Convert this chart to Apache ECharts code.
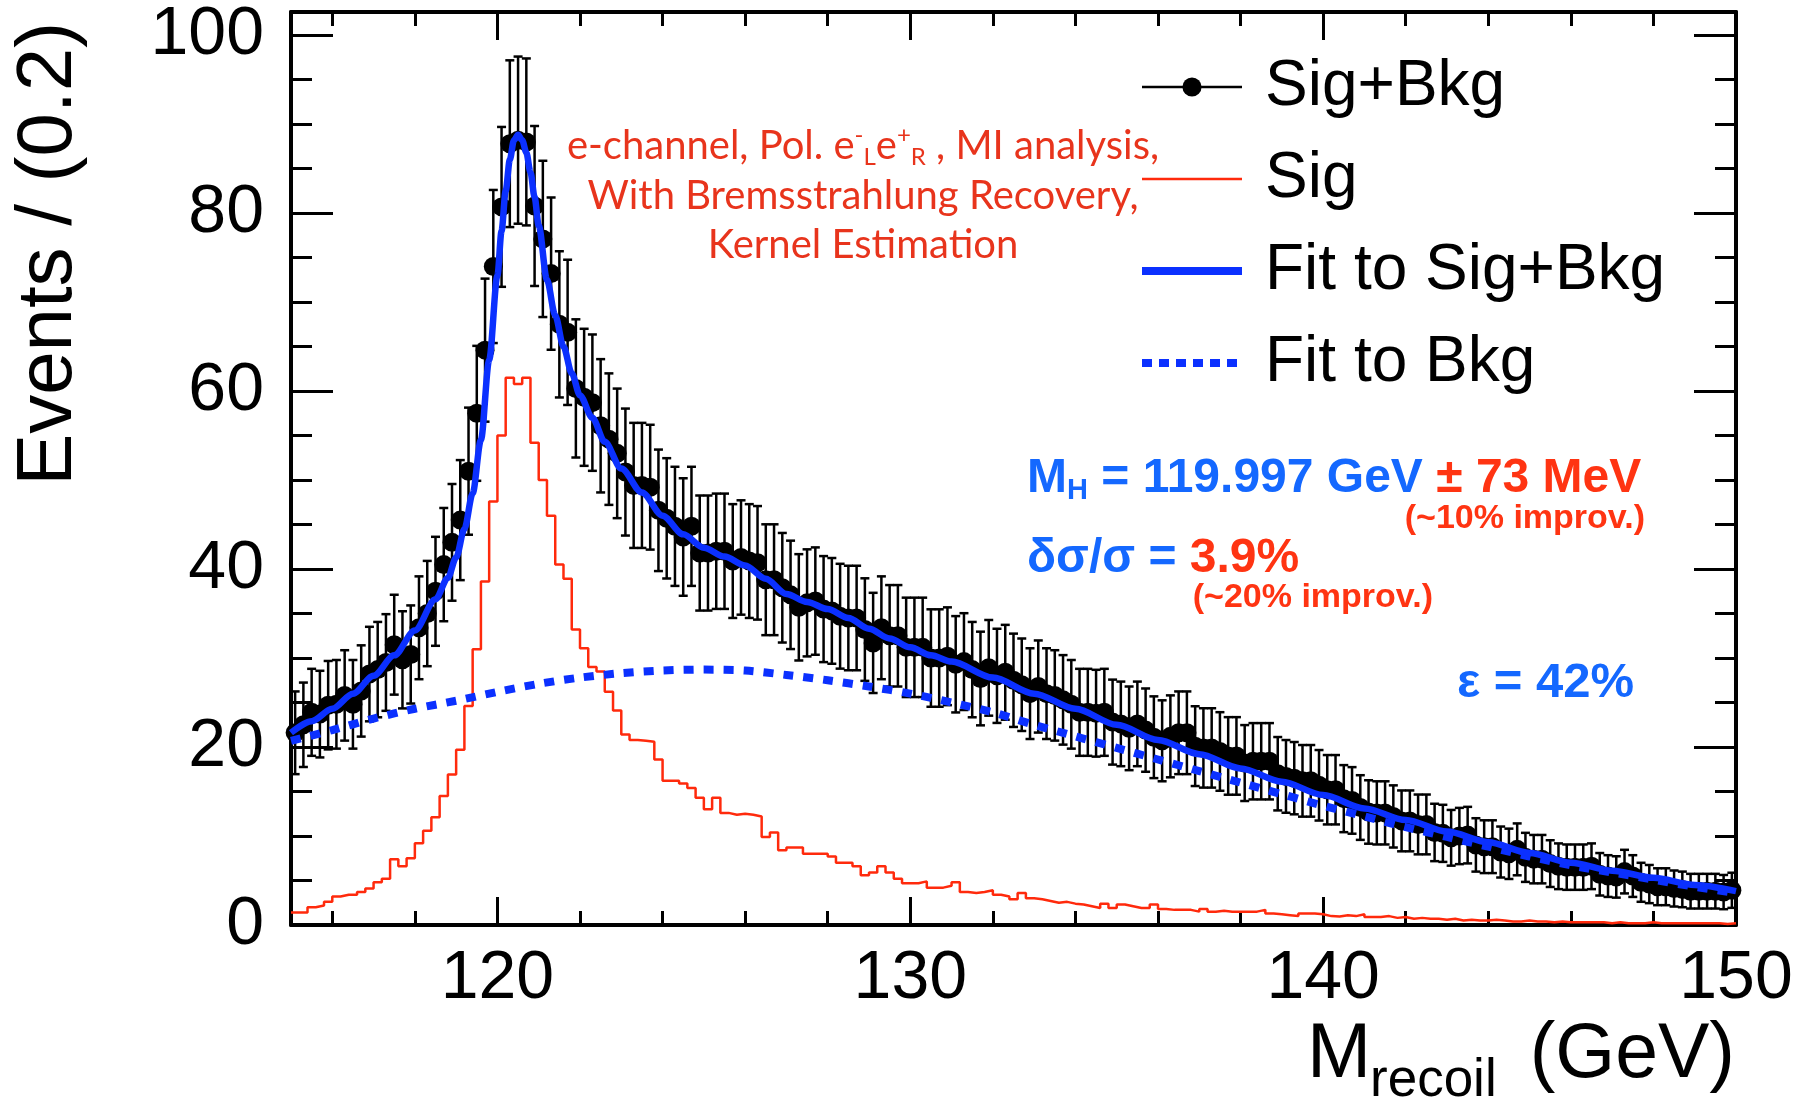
<!DOCTYPE html>
<html>
<head>
<meta charset="utf-8">
<script src="https://cdn.jsdelivr.net/npm/echarts@6.0.0/dist/echarts.min.js"></script>
<style>
html,body{margin:0;padding:0;background:#fff;}
#chart{width:1806px;height:1104px;}
</style>
</head>
<body>
<div id="chart"></div>
<script>
// ---------------- DATA ----------------
// Binning: 175 bins of width 0.2 GeV from 115 to 150 GeV
const binStart = 115;
const binWidth = 0.2;

// Sig+Bkg events per bin (black points)
const sigBkgValues = [
  21.6, 22.5, 23.9, 23.7, 24.7, 24.8, 25.8, 24.8, 26.3, 28.2,
  28.7, 29.5, 31.5, 29.8, 30.4, 33.4, 35.0, 37.5, 40.5, 43.0,
  45.5, 51.0, 57.5, 64.6, 74.0, 80.7, 87.8, 88.2, 88.0, 80.8,
  77.1, 73.2, 67.5, 66.6, 60.3, 59.3, 58.7, 56.1, 54.6, 53.0,
  50.9, 49.4, 49.4, 49.2, 46.6, 45.7, 44.8, 43.6, 44.8, 41.8,
  41.8, 42.0, 42.0, 40.9, 41.3, 40.9, 40.7, 38.8, 38.8, 37.9,
  37.1, 35.7, 36.2, 36.4, 35.5, 35.3, 34.7, 34.5, 34.5, 33.2,
  31.7, 33.4, 32.5, 32.5, 31.2, 31.2, 31.2, 30.0, 30.0, 30.2,
  29.3, 29.6, 28.7, 27.7, 28.9, 28.0, 28.4, 27.5, 27.0, 26.0,
  26.8, 26.0, 25.8, 25.3, 24.8, 23.9, 23.9, 23.8, 23.9, 22.8,
  22.6, 22.1, 22.6, 21.9, 21.1, 20.7, 21.2, 21.6, 21.6, 20.1,
  19.9, 19.9, 19.5, 19.0, 19.0, 18.2, 18.4, 18.4, 18.4, 17.0,
  16.7, 16.5, 16.2, 16.2, 15.7, 15.2, 15.2, 14.2, 14.0, 13.2,
  12.7, 12.6, 12.6, 12.2, 11.7, 11.7, 11.3, 11.3, 10.4, 10.3,
  9.8, 10.0, 10.1, 9.0, 8.8, 8.8, 8.2, 8.0, 8.5, 7.6,
  7.4, 7.4, 6.9, 6.6, 6.5, 6.5, 6.5, 6.6, 5.7, 5.5,
  5.4, 6.0, 5.5, 4.8, 4.6, 4.3, 4.3, 4.1, 4.0, 3.8,
  3.8, 3.8, 3.8, 3.7, 3.9
];

// Signal-only histogram per bin (red)
const sigValues = [
  1.4, 1.4, 2.0, 2.2, 2.6, 3.2, 3.4, 3.4, 3.7, 4.1,
  4.8, 5.2, 7.4, 6.6, 7.5, 9.2, 10.6, 12.1, 14.5, 16.9,
  19.7, 24.6, 31.0, 38.6, 47.6, 55.0, 61.5, 60.8, 61.5, 54.2,
  50.0, 46.0, 40.5, 38.9, 33.2, 31.1, 29.0, 28.5, 26.2, 24.1,
  21.4, 20.8, 20.7, 20.6, 18.6, 16.2, 16.2, 15.9, 15.4, 14.3,
  13.0, 14.3, 12.6, 12.4, 12.5, 12.4, 12.2, 9.9, 10.4, 8.4,
  8.7, 8.7, 8.0, 8.0, 8.0, 7.7, 7.0, 7.0, 6.6, 5.6,
  5.9, 6.6, 5.9, 5.2, 4.7, 4.7, 4.9, 4.2, 4.2, 4.4,
  4.8, 3.7, 3.6, 3.7, 3.9, 3.4, 3.2, 2.9, 3.6, 3.0,
  2.9, 2.7, 2.5, 2.6, 2.4, 2.3, 2.1, 1.9, 2.4, 1.9,
  2.3, 2.1, 1.9, 1.9, 2.3, 1.8, 1.7, 1.7, 1.7, 1.5,
  1.8, 1.5, 1.6, 1.5, 1.5, 1.5, 1.5, 1.7, 1.3, 1.2,
  1.1, 1.0, 1.3, 1.3, 1.2, 1.0, 0.95, 1.1, 1.0, 1.2,
  0.9, 0.9, 1.0, 0.8, 0.9, 0.7, 0.8, 0.7, 0.7, 0.6,
  0.7, 0.5, 0.6, 0.5, 0.5, 0.6, 0.5, 0.4, 0.4, 0.5,
  0.4, 0.4, 0.3, 0.4, 0.3, 0.3, 0.3, 0.3, 0.3, 0.2,
  0.3, 0.2, 0.2, 0.2, 0.3, 0.2, 0.2, 0.2, 0.2, 0.2,
  0.2, 0.2, 0.2, 0.1, 0.2
];

// Fit to Sig+Bkg (solid blue curve)
const fitSigBkgX = [
  115.0, 115.5, 116.0, 116.5, 117.0, 117.5, 118.0, 118.5, 118.8, 119.0,
  119.2, 119.4, 119.6, 119.8, 120.0, 120.1, 120.2, 120.3, 120.4, 120.5,
  120.6, 120.7, 120.8, 120.9, 121.0, 121.2, 121.4, 121.6, 121.8, 122.0,
  122.3, 122.6, 123.0, 123.5, 124.0, 124.5, 125.0, 125.5, 126.0, 126.5,
  127.0, 127.5, 128.0, 128.5, 129.0, 129.5, 130.0, 130.5, 131.0, 132.0,
  133.0, 134.0, 135.0, 136.0, 137.0, 138.0, 139.0, 140.0, 141.0, 142.0,
  143.0, 144.0, 145.0, 146.0, 147.0, 148.0, 149.0, 150.0
];
const fitSigBkgY = [
  21.6, 22.9, 24.3, 26.0, 28.0, 30.3, 33.1, 36.6, 39.0, 41.3,
  44.5, 48.5, 54.5, 63.5, 73.0, 78.0, 82.5, 86.0, 88.2, 88.8,
  88.2, 86.8, 84.6, 81.8, 78.6, 72.5, 68.5, 65.0, 62.0, 59.5,
  57.0, 54.3, 51.3, 48.6, 46.0, 43.9, 42.4, 41.4, 40.4, 38.9,
  37.2, 36.3, 35.5, 34.5, 33.3, 32.2, 31.2, 30.3, 29.6, 27.8,
  26.0, 24.3, 22.5, 20.8, 19.2, 17.6, 16.1, 14.6, 13.1, 11.8,
  10.5, 9.3, 8.1, 7.0, 6.1, 5.3, 4.5, 3.8
];

// Fit to Bkg (dotted blue curve)
const fitBkgX = [
  115, 116, 117, 118, 119, 120, 121, 122, 123, 124, 125, 126,
  127, 128, 129, 130, 131, 132, 133, 134, 135, 136, 137, 138,
  139, 140, 141, 142, 143, 144, 145, 146, 147, 148, 149, 150
];
const fitBkgY = [
  20.7, 21.9, 23.2, 24.3, 25.2, 26.2, 27.1, 27.8, 28.3, 28.6, 28.7, 28.6,
  28.1, 27.5, 26.8, 26.0, 25.0, 23.9, 22.5, 21.2, 19.9, 18.6, 17.3, 16.0,
  14.7, 13.4, 12.2, 11.0, 9.9, 8.8, 7.7, 6.7, 5.9, 5.1, 4.3, 3.6
];

// Axis ticks / labels
const xMin = 115, xMax = 150;
const yMin = 0, yMax = 102.6;
const xTickMajor = [120, 130, 140, 150];
const xTickMinor = [116, 118, 122, 124, 126, 128, 132, 134, 136, 138, 142, 144, 146, 148];
const yTickMajor = [0, 20, 40, 60, 80, 100];
const yTickMinor = [5, 10, 15, 25, 30, 35, 45, 50, 55, 65, 70, 75, 85, 90, 95];

const legendNames = ['Sig+Bkg', 'Sig', 'Fit to Sig+Bkg', 'Fit to Bkg'];

// ---------------- STYLE ----------------
const FONT = "'Liberation Sans', Arial, Helvetica, sans-serif";
const HUM = "Lato, 'Open Sans', sans-serif";
const BLUE = '#0b30ff';
const RED = '#ff2a0c';
const TXT_BLUE = '#1468ff';
const TXT_RED = '#ff3412';
const ANN_RED = '#e8341c';

// ---------------- BUILD ----------------
const centers = sigBkgValues.map((_, i) => +(binStart + binWidth * (i + 0.5)).toFixed(3));
const pointData = centers.map((c, i) => [c, sigBkgValues[i]]);
const errData = centers.map((c, i) => [c, sigBkgValues[i], Math.sqrt(sigBkgValues[i])]); // Poisson errors
const sigData = sigValues.map((v, i) => [+(binStart + binWidth * i).toFixed(3), v]);
sigData.push([xMax, sigValues[sigValues.length - 1]]);
const fitData = fitSigBkgX.map((x, i) => [x, fitSigBkgY[i]]);
const bkgData = fitBkgX.map((x, i) => [x, fitBkgY[i]]);

function xAxisDef(pos, ticks, len, showLine, showLabel) {
  return {
    type: 'value', min: xMin, max: xMax, position: pos,
    axisLine: { show: showLine, onZero: false, lineStyle: { color: '#000', width: 4 } },
    axisTick: { show: true, inside: true, length: len, customValues: ticks, lineStyle: { color: '#000', width: 3 } },
    axisLabel: { show: showLabel, customValues: ticks, fontFamily: FONT, fontSize: 68, color: '#000', margin: 20 },
    splitLine: { show: false }, minorTick: { show: false }
  };
}
function yAxisDef(pos, ticks, len, showLine, showLabel) {
  return {
    type: 'value', min: yMin, max: yMax, position: pos,
    axisLine: { show: showLine, onZero: false, lineStyle: { color: '#000', width: 4 } },
    axisTick: { show: true, inside: true, length: len, customValues: ticks, lineStyle: { color: '#000', width: 3 } },
    axisLabel: { show: showLabel, customValues: ticks, fontFamily: FONT, fontSize: 68, color: '#000', margin: 27 },
    splitLine: { show: false }, minorTick: { show: false }
  };
}

const chart = echarts.init(document.getElementById('chart'), null, { renderer: 'canvas', width: 1806, height: 1104 });

const option = {
  animation: false,
  backgroundColor: '#fff',
  grid: { left: 291, right: 70, top: 12, bottom: 179, containLabel: false, outerBoundsMode: 'none' },
  xAxis: [
    xAxisDef('bottom', xTickMajor, 28, true, true),
    xAxisDef('bottom', xTickMinor, 14, false, false),
    xAxisDef('top', xTickMajor, 28, true, false),
    xAxisDef('top', xTickMinor, 14, false, false)
  ],
  yAxis: [
    yAxisDef('left', yTickMajor, 42, true, true),
    yAxisDef('left', yTickMinor, 21, false, false),
    yAxisDef('right', yTickMajor, 42, true, false),
    yAxisDef('right', yTickMinor, 21, false, false)
  ],
  legend: {
    orient: 'vertical', left: 1138, top: 55, padding: 0, itemGap: 28,
    itemWidth: 100, itemHeight: 24, selectedMode: false,
    textStyle: { fontFamily: FONT, fontSize: 64, color: '#000', lineHeight: 64, padding: [0, 0, 0, 18] },
    data: [
      { name: legendNames[0], lineStyle: { opacity: 1, width: 2.5, color: '#000', type: 'solid' }, itemStyle: { color: '#000', opacity: 1 } },
      { name: legendNames[1], lineStyle: { width: 2.5, color: RED }, itemStyle: { opacity: 0 } },
      { name: legendNames[2], lineStyle: { width: 8, color: BLUE }, itemStyle: { opacity: 0 } },
      { name: legendNames[3], lineStyle: { width: 8, color: BLUE, type: [10, 7] }, itemStyle: { opacity: 0 } }
    ]
  },
  series: [
    {
      name: legendNames[1], type: 'line', step: 'end', data: sigData,
      symbol: 'none', lineStyle: { color: RED, width: 2.5 }, itemStyle: { color: RED },
      z: 2, silent: true
    },
    {
      name: 'errors', type: 'custom', data: errData, encode: { x: 0, y: 1 }, z: 3, silent: true,
      renderItem: function (params, api) {
        const x = api.value(0), y = api.value(1), e = api.value(2);
        const top = api.coord([x, y + e]);
        const bot = api.coord([x, y - e]);
        const hw = 4.5;
        const st = { stroke: '#000', lineWidth: 2.5 };
        return {
          type: 'group', children: [
            { type: 'line', shape: { x1: top[0], y1: top[1], x2: bot[0], y2: bot[1] }, style: st },
            { type: 'line', shape: { x1: top[0] - hw, y1: top[1], x2: top[0] + hw, y2: top[1] }, style: st },
            { type: 'line', shape: { x1: bot[0] - hw, y1: bot[1], x2: bot[0] + hw, y2: bot[1] }, style: st }
          ]
        };
      }
    },
    {
      name: legendNames[0], type: 'line', data: pointData,
      symbol: 'circle', symbolSize: 19, showSymbol: true, showAllSymbol: true,
      lineStyle: { opacity: 0, color: '#000', width: 2 }, itemStyle: { color: '#000' },
      z: 4, silent: true, clip: false
    },
    {
      name: legendNames[3], type: 'line', data: bkgData, smooth: 0.3,
      symbol: 'none', lineStyle: { color: BLUE, width: 8, type: [10, 10], cap: 'butt' }, itemStyle: { color: BLUE },
      z: 5, silent: true
    },
    {
      name: legendNames[2], type: 'line', data: fitData, smooth: 0.3, smoothMonotone: 'x',
      symbol: 'none', lineStyle: { color: BLUE, width: 6.5 }, itemStyle: { color: BLUE },
      z: 6, silent: true
    }
  ],
  graphic: [
    // y axis title
    { type: 'text', x: 49, y: 22, rotation: Math.PI / 2, z: 100,
      style: { text: 'Events / (0.2)', fontFamily: FONT, fontSize: 78, fill: '#000', align: 'right', verticalAlign: 'middle' } },
    // x axis title: M, subscript "recoil", (GeV)
    { type: 'text', x: 1307, y: 1056, z: 100,
      style: { text: 'M', fontFamily: FONT, fontSize: 77, fill: '#000', align: 'left', verticalAlign: 'middle' } },
    { type: 'text', x: 1370, y: 1081, z: 100,
      style: { text: 'recoil', fontFamily: FONT, fontSize: 53, fill: '#000', align: 'left', verticalAlign: 'middle' } },
    { type: 'text', x: 1735, y: 1056, z: 100,
      style: { text: '(GeV)', fontFamily: FONT, fontSize: 77, fill: '#000', align: 'right', verticalAlign: 'middle' } },
    // red analysis description
    { type: 'text', x: 863, y: 146, z: 100,
      style: {
        text: '{t|e-channel, Pol. e}{sup|-}{sub|L}{t|e}{sup|+}{sub|R}{t| , MI analysis,}',
        align: 'center', verticalAlign: 'middle',
        rich: {
          t: { fontFamily: HUM, fontSize: 40, lineHeight: 46, fill: ANN_RED },
          sup: { fontFamily: HUM, fontSize: 24, lineHeight: 24, fill: ANN_RED, verticalAlign: 'top' },
          sub: { fontFamily: HUM, fontSize: 24, lineHeight: 22, fill: ANN_RED, verticalAlign: 'bottom' }
        }
      } },
    { type: 'text', x: 863, y: 196, z: 100,
      style: { text: 'With Bremsstrahlung Recovery,', fontFamily: HUM, fontSize: 40, fill: ANN_RED, align: 'center', verticalAlign: 'middle' } },
    { type: 'text', x: 863, y: 245, z: 100,
      style: { text: 'Kernel Estimation', fontFamily: HUM, fontSize: 40, fill: ANN_RED, align: 'center', verticalAlign: 'middle' } },
    // M_H result
    { type: 'text', x: 1027, y: 479, z: 100,
      style: {
        text: '{b|M}{bs|H}{b| = 119.997 GeV }{r|\u00B1 73 MeV}', align: 'left', verticalAlign: 'middle',
        rich: {
          b: { fontFamily: FONT, fontWeight: 'bold', fontSize: 48, lineHeight: 52, fill: TXT_BLUE },
          bs: { fontFamily: FONT, fontWeight: 'bold', fontSize: 29, lineHeight: 30, fill: TXT_BLUE, verticalAlign: 'bottom' },
          r: { fontFamily: FONT, fontWeight: 'bold', fontSize: 48, lineHeight: 52, fill: TXT_RED }
        }
      } },
    { type: 'text', x: 1645, y: 519, z: 100,
      style: { text: '(~10% improv.)', fontFamily: FONT, fontWeight: 'bold', fontSize: 34, fill: TXT_RED, align: 'right', verticalAlign: 'middle' } },
    // cross-section result
    { type: 'text', x: 1027, y: 559, z: 100,
      style: {
        text: '{b|\u03B4\u03C3/\u03C3 = }{r|3.9%}', align: 'left', verticalAlign: 'middle',
        rich: {
          b: { fontFamily: FONT, fontWeight: 'bold', fontSize: 48, lineHeight: 52, fill: TXT_BLUE },
          r: { fontFamily: FONT, fontWeight: 'bold', fontSize: 48, lineHeight: 52, fill: TXT_RED }
        }
      } },
    { type: 'text', x: 1433, y: 598, z: 100,
      style: { text: '(~20% improv.)', fontFamily: FONT, fontWeight: 'bold', fontSize: 34, fill: TXT_RED, align: 'right', verticalAlign: 'middle' } },
    // efficiency
    { type: 'text', x: 1457, y: 683, z: 100,
      style: { text: '\u03B5 = 42%', fontFamily: FONT, fontWeight: 'bold', fontSize: 49, fill: TXT_BLUE, align: 'left', verticalAlign: 'middle' } }
  ]
};

chart.setOption(option);
</script>
</body>
</html>
